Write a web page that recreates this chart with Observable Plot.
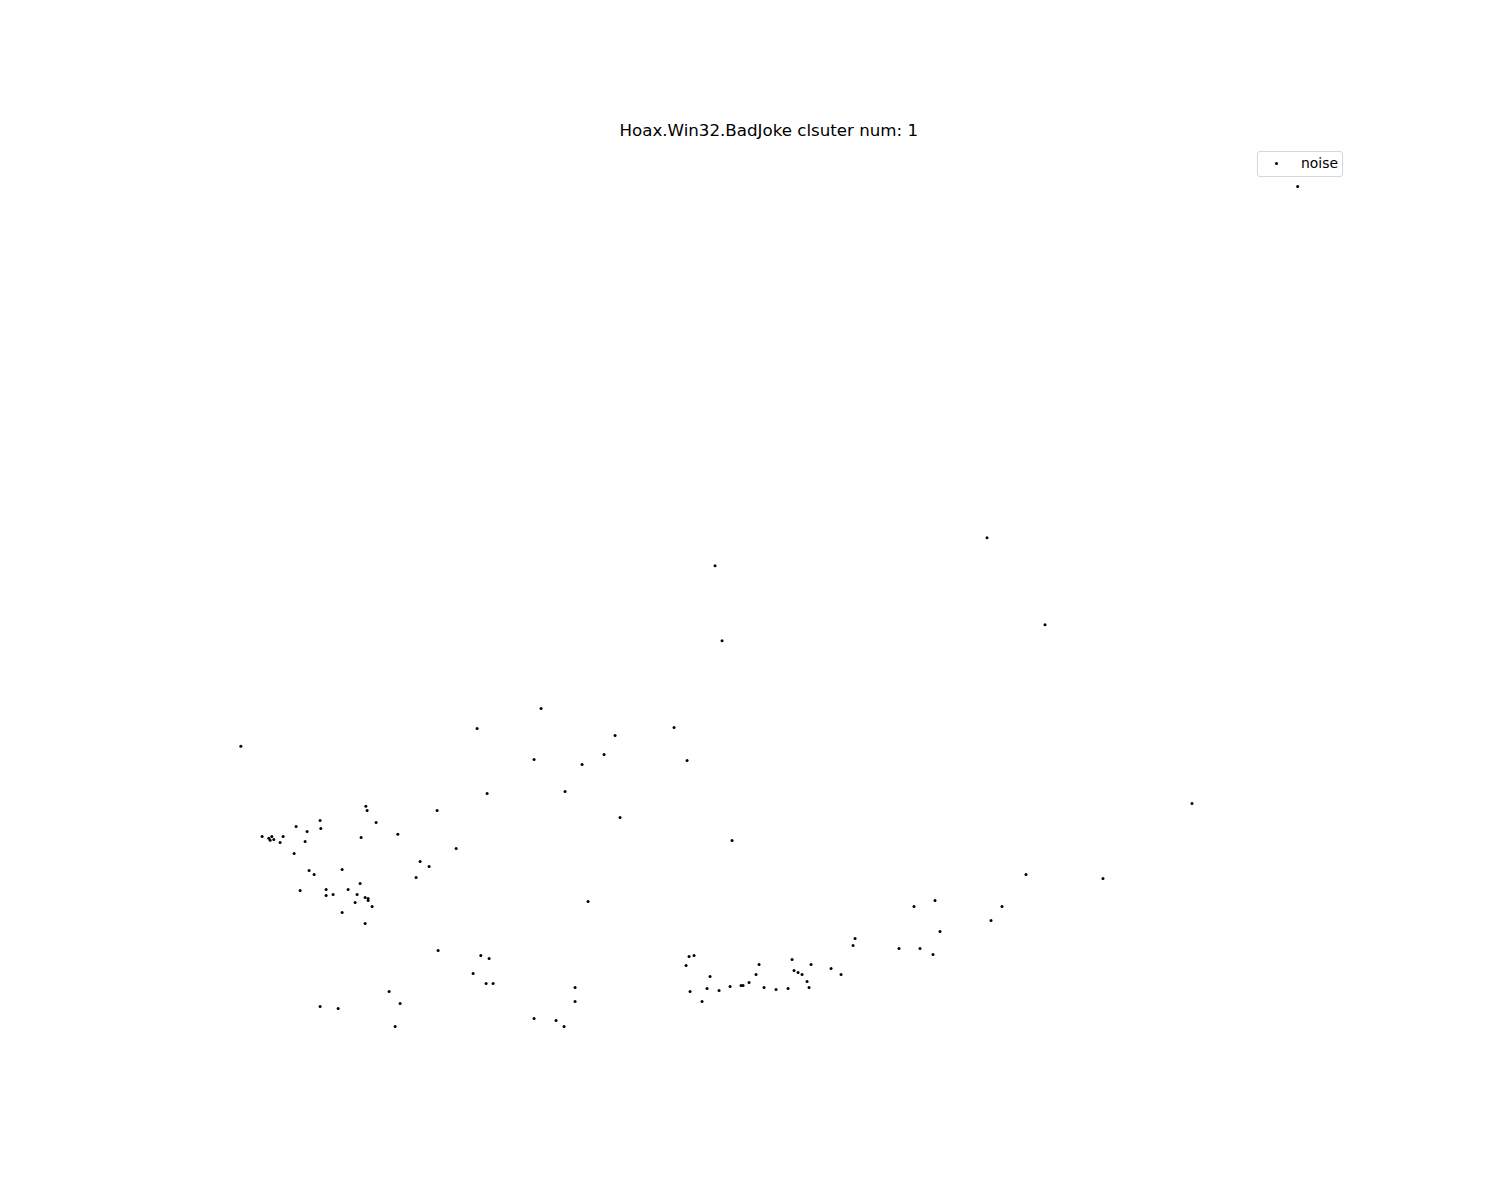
<!DOCTYPE html>
<html>
<head>
<meta charset="utf-8">
<script src="https://cdn.jsdelivr.net/npm/d3@7"></script>
<script src="https://cdn.jsdelivr.net/npm/@observablehq/plot@0.6"></script>
<style>
  body { margin: 0; background: #fff; font-family: "DejaVu Sans", sans-serif; }
  #wrap { position: relative; width: 1500px; height: 1200px; }
  #head { position: relative; width: 1500px; height: 144px; }
  #title { position: absolute; top: 121px; left: 37.5px; width: 1462.5px; text-align: center;
           font-size: 16.67px; line-height: 20px; color: #000; }
  #legend { position: absolute; left: 1257px; top: 151px; width: 86px; height: 26px;
            border: 1px solid #d6d6d6; border-radius: 3px; background: rgba(255,255,255,0.8);
            box-sizing: border-box; font-size: 13.9px; color: #000; }
  #legend .mk { position: absolute; left: 17.3px; top: 10.3px; width: 3px; height: 3px; border-radius: 50%; background: #000; }
  #legend .tx { position: absolute; left: 43px; top: 3px; line-height: 17px; }
</style>
</head>
<body>
<div id="wrap">
  <div id="head"><div id="title">Hoax.Win32.BadJoke clsuter num: 1</div></div>
  <div id="chart"></div>
  <div id="legend"><span class="mk"></span><span class="tx">noise</span></div>
</div>
<script>
const titleText = "Hoax.Win32.BadJoke clsuter num: 1";
const seriesName = "noise";

// x and y (arbitrary units, y upward)
const xs = [
  365.0, 366.3, 375.3, 319.3, 295.3, 320.0, 306.3, 261.3, 268.0, 271.0, 269.3, 273.0, 282.3, 279.3, 304.3, 360.3,
  293.3, 341.3, 308.3, 313.3, 359.3, 299.3, 325.3, 325.3, 332.3, 347.3, 356.3, 364.3, 367.3, 367.3, 354.3, 371.3,
  341.3, 364.3, 419.3, 428.3, 415.3, 437.3, 480.0, 472.3, 388.3, 399.3, 319.3, 337.3, 394.3,
  540.3, 476.3, 614.3, 603.3, 533.3, 581.3, 486.3, 564.3, 436.3, 619.3, 455.3, 397.0,
  587.3, 488.3, 485.3, 492.3, 574.3, 574.3, 533.3, 555.3, 563.3,
  685.3, 688.3, 693.3, 689.3, 701.3, 709.3, 706.3, 718.3, 729.3, 740.3, 742.3, 748.3, 755.3, 758.3, 763.3, 775.3,
  787.3, 791.3, 793.3, 797.3, 801.3, 806.3, 808.3, 810.3, 830.3, 840.3, 852.3, 854.3,
  1191.3, 1025.3, 1102.3, 934.3, 913.3, 1001.3, 990.3, 939.3, 898.3, 919.3, 932.3,
  714.3, 721.3, 673.3, 686.3, 731.3, 986.3, 1044.3, 240.0, 1297.0
];
const ys = [
  394.0, 389.7, 377.7, 379.7, 373.7, 371.7, 368.7, 363.7, 362.0, 363.7, 360.0, 360.7, 363.7, 357.7, 358.7, 362.7,
  346.7, 330.7, 329.7, 325.7, 316.7, 309.7, 310.7, 304.7, 305.7, 310.7, 305.7, 302.7, 301.7, 299.7, 297.7, 293.7,
  287.7, 276.7, 338.7, 333.7, 322.7, 249.7, 244.7, 226.7, 208.7, 196.7, 193.7, 191.7, 173.7,
  491.7, 471.7, 464.7, 445.7, 440.7, 435.7, 406.7, 408.7, 389.7, 382.7, 351.7, 366.0,
  298.7, 241.7, 216.7, 216.7, 212.7, 198.7, 181.7, 179.7, 173.7,
  234.7, 243.7, 244.7, 208.7, 198.7, 223.7, 211.7, 209.7, 213.7, 214.7, 214.7, 217.7, 225.7, 235.7, 212.7, 210.7,
  211.7, 240.7, 229.7, 227.7, 225.7, 218.7, 212.7, 235.7, 231.7, 225.7, 254.7, 261.7,
  396.7, 325.7, 321.7, 299.7, 293.7, 293.7, 279.7, 268.7, 251.7, 251.7, 245.7,
  634.7, 559.7, 472.7, 439.7, 359.7, 662.7, 575.7, 454.0, 1014.0
];

const data = xs.map((x, i) => ({x, y: ys[i], label: seriesName}));

function padded(arr) {
  const [a, b] = d3.extent(arr);
  const p = (b - a) * 0.05;
  return [a - p, b + p];
}

const chart = Plot.plot({
  width: 1500,
  height: 1056,
  marginTop: 0,
  marginBottom: 132,
  marginLeft: 187.5,
  marginRight: 150,
  x: {domain: padded(xs), axis: null},
  y: {domain: padded(ys), axis: null},
  style: {background: "white"},
  marks: [
    Plot.dot(data, {x: "x", y: "y", r: 1.5, fill: "black", stroke: "none"})
  ]
});
document.getElementById("chart").appendChild(chart);
</script>
</body>
</html>
